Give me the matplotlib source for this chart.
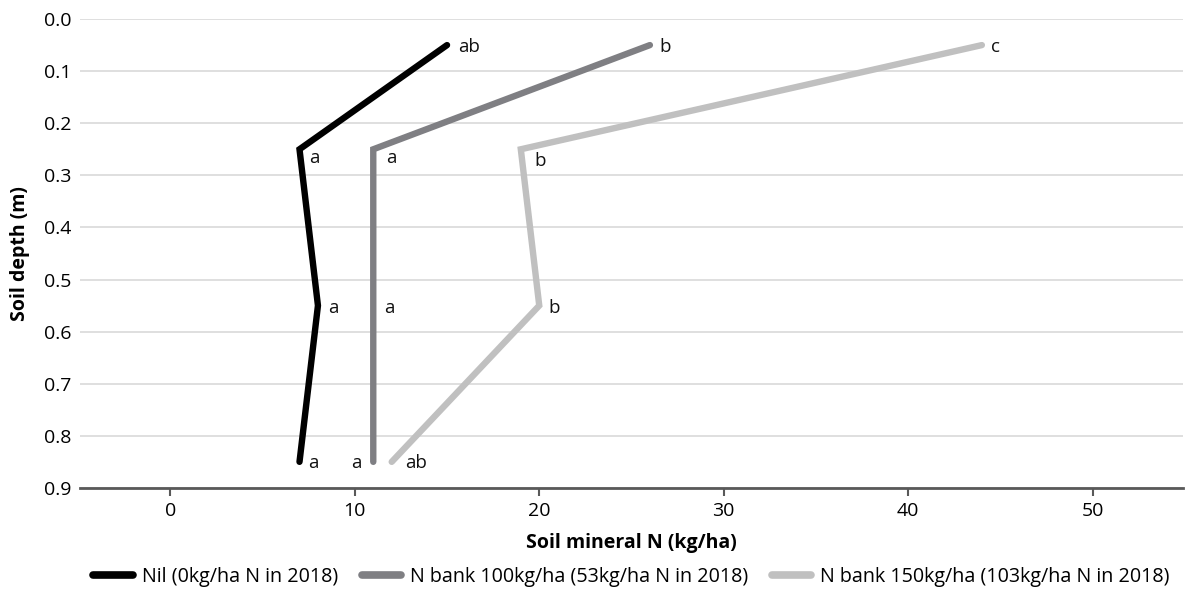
import matplotlib.pyplot as plt

depth = [0.05, 0.25, 0.55, 0.85]

series_names = [
    "Nil (0kg/ha N in 2018)",
    "N bank 100kg/ha (53kg/ha N in 2018)",
    "N bank 150kg/ha (103kg/ha N in 2018)",
]
nil = [15, 7, 8, 7]
bank100 = [26, 11, 11, 11]
bank150 = [44, 19, 20, 12]

nil_letters = ["ab", "a", "a", "a"]
bank100_letters = ["b", "a", "a", "a"]
bank150_letters = ["c", "b", "b", "ab"]

colors = ["#000000", "#7f7f83", "#c0c0c0"]

# letter offsets in points (dx, dy, ha)
offsets = [
    [(8, -1.5, "left"), (7, -6, "left"), (7, -1.5, "left"), (6, -1, "left")],
    [(6.5, -1.5, "left"), (9, -6, "left"), (8, -1.5, "left"), (-8.5, -1, "right")],
    [(6.5, -1.5, "left"), (10, -8.5, "left"), (6.5, -1.5, "left"), (9.5, -1, "left")],
]

plt.rcParams["font.family"] = ["Open Sans", "DejaVu Sans"]

fig = plt.figure(figsize=(11.91, 5.95), dpi=100)
ax = fig.add_axes([0.0672, 0.180, 0.926, 0.788])

all_values = [nil, bank100, bank150]
all_letters = [nil_letters, bank100_letters, bank150_letters]

for i in range(3):
    ax.plot(all_values[i], depth, color=colors[i], lw=4.6,
            solid_capstyle="round", solid_joinstyle="miter",
            label=series_names[i], zorder=3)
    for j in range(len(depth)):
        dx, dy, ha = offsets[i][j]
        ax.annotate(all_letters[i][j], (all_values[i][j], depth[j]),
                    xytext=(dx, dy), textcoords="offset points",
                    ha=ha, va="center", fontsize=13.5, color="#111111")

ax.set_xlim(-4.9, 54.9)
ax.set_ylim(0.9, 0.0)
ax.set_xticks([0, 10, 20, 30, 40, 50])
ax.set_yticks([0.0, 0.1, 0.2, 0.3, 0.4, 0.5, 0.6, 0.7, 0.8, 0.9])
ax.set_yticklabels([f"{v:.1f}" for v in ax.get_yticks()])

ax.grid(axis="y", color="#d9d9d9", lw=1.2)
ax.set_axisbelow(True)
for s in ["top", "left", "right"]:
    ax.spines[s].set_visible(False)
ax.spines["bottom"].set_color("#595959")
ax.spines["bottom"].set_linewidth(2)

ax.tick_params(axis="x", length=5.5, width=1.5, color="#595959",
               labelsize=14, pad=5)
ax.tick_params(axis="y", length=0, labelsize=14, pad=6)

ax.set_xlabel("Soil mineral N (kg/ha)", fontsize=14, fontweight="bold")
ax.set_ylabel("Soil depth (m)", fontsize=14, fontweight="bold")
ax.xaxis.set_label_coords(0.5, -0.117)
ax.xaxis.label.set_va("center")
ax.yaxis.set_label_coords(-0.054, 0.5)
ax.yaxis.label.set_va("center")

ax.legend(loc="center", bbox_to_anchor=(0.5, -0.19), ncol=3,
          frameon=False, fontsize=14.2, handlelength=2.0, columnspacing=1.2,
          handletextpad=0.45)
for line in ax.get_legend().get_lines():
    line.set_linewidth(5.5)

fig.savefig("out.png", dpi=100)
